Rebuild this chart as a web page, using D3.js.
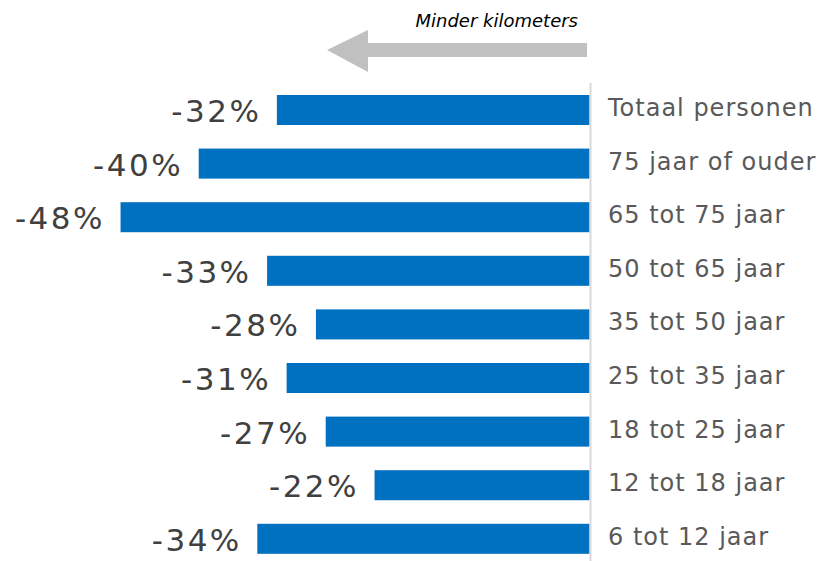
<!DOCTYPE html>
<html>
<head>
<meta charset="utf-8">
<script src="https://cdn.jsdelivr.net/npm/d3@7"></script>
<style>
  body { margin: 0; background: #fff; }
  svg { display: block; font-family: "DejaVu Sans", Verdana, sans-serif; }
</style>
</head>
<body>
<div id="chart"></div>
<script>
const categories = ["Totaal personen", "75 jaar of ouder", "65 tot 75 jaar", "50 tot 65 jaar",
  "35 tot 50 jaar", "25 tot 35 jaar", "18 tot 25 jaar", "12 tot 18 jaar", "6 tot 12 jaar"];
const values = [-32, -40, -48, -33, -28, -31, -27, -22, -34];
const arrowLabel = "Minder kilometers";

const width = 828, height = 561;

const svg = d3.select("#chart")
  .append("svg")
  .attr("width", width)
  .attr("height", height);

// scales
const x = d3.scaleLinear()
  .domain([-50, 0])
  .range([101, 589.5]);

const y = d3.scaleBand()
  .domain(categories)
  .range([71.4, 577.4])
  .paddingInner(0.44)
  .paddingOuter(0.44);

// bars
svg.append("g")
  .selectAll("rect")
  .data(values)
  .enter()
  .append("rect")
  .attr("x", d => x(d))
  .attr("y", (d, i) => y(categories[i]))
  .attr("width", d => x(0) - x(d))
  .attr("height", y.bandwidth())
  .style("fill", "#0070C0");

// vertical axis line
svg.append("line")
  .attr("x1", x(0) + 1)
  .attr("x2", x(0) + 1)
  .attr("y1", 83)
  .attr("y2", height)
  .style("stroke", "#d9d9d9")
  .style("stroke-width", 2);

// category labels on the right
svg.append("g")
  .selectAll("text")
  .data(categories)
  .enter()
  .append("text")
  .attr("x", 608)
  .attr("y", d => y(d) + y.bandwidth() / 2)
  .attr("dy", "0.25em")
  .style("font-size", "24px")
  .style("letter-spacing", "1px")
  .style("fill", "#595959")
  .text(d => d);

// value labels
svg.append("g")
  .selectAll("text")
  .data(values)
  .enter()
  .append("text")
  .attr("x", d => x(d) - 15.5)
  .attr("y", (d, i) => y(categories[i]) + y.bandwidth() / 2)
  .attr("dy", "0.39em")
  .attr("text-anchor", "end")
  .style("font-size", "31px")
  .style("letter-spacing", "2.5px")
  .style("fill", "#404040")
  .text(d => d + "%");

// arrow
svg.append("path")
  .attr("d", "M587,43 L368,43 L368,30 L327,50 L368,72 L368,57 L587,57 Z")
  .style("fill", "#c0c0c0");

svg.append("text")
  .attr("x", 578)
  .attr("y", 26.5)
  .attr("text-anchor", "end")
  .style("font-size", "18px")
  .style("font-style", "italic")
  .style("fill", "#000")
  .text(arrowLabel);
</script>
</body>
</html>
